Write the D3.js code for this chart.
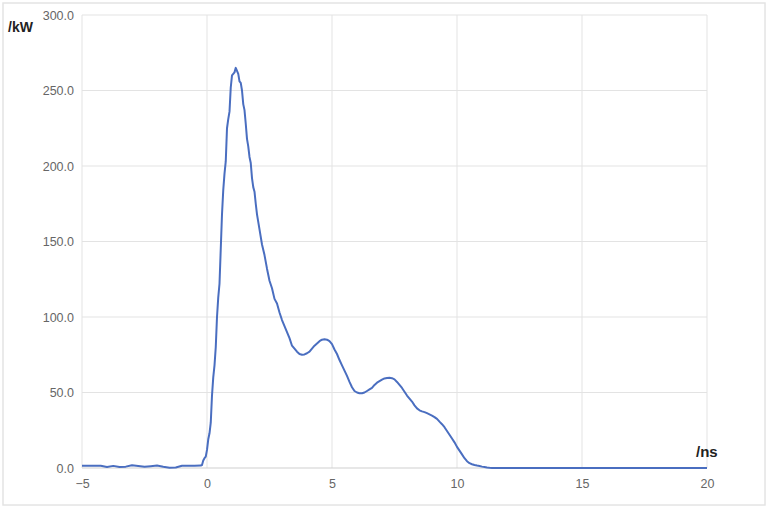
<!DOCTYPE html>
<html>
<head>
<meta charset="utf-8">
<script src="https://cdn.jsdelivr.net/npm/d3@7"></script>
<style>
  html, body { margin: 0; padding: 0; background: #fff; }
  svg { display: block; font-family: "Liberation Sans", Arial, sans-serif; }
</style>
</head>
<body>
<svg id="chart" width="768" height="508"></svg>
<script>
// ---- data ----
const times = [
  -5, -4.75, -4.5, -4.25, -4, -3.75, -3.5, -3.25, -3, -2.75, -2.5, -2.25, -2, -1.75, -1.5, -1.25, -1, -0.75, -0.5, -0.25,
  -0.2, -0.15, -0.1, -0.05, 0, 0.05, 0.1, 0.15, 0.2, 0.25, 0.3, 0.35, 0.4, 0.45, 0.5, 0.55, 0.6, 0.65, 0.7, 0.75,
  0.8, 0.85, 0.9, 0.95, 1.0, 1.05, 1.1, 1.15, 1.2, 1.25, 1.3, 1.35, 1.4, 1.45, 1.5, 1.55, 1.6, 1.65, 1.7, 1.75,
  1.8, 1.85, 1.9, 1.95, 2.0,
  2.1, 2.2, 2.3, 2.4, 2.5, 2.6, 2.7, 2.8, 2.9, 3.0, 3.1, 3.2, 3.3, 3.4, 3.5, 3.6, 3.7, 3.8, 3.9, 4.0,
  4.1, 4.2, 4.3, 4.4, 4.5, 4.6, 4.7, 4.8, 4.9, 5.0, 5.1, 5.2, 5.3, 5.4, 5.5, 5.6, 5.7, 5.8, 5.9, 6.0,
  6.1, 6.2, 6.3, 6.4, 6.5, 6.6, 6.7, 6.8, 6.9, 7.0, 7.1, 7.2, 7.3, 7.4, 7.5, 7.6, 7.7, 7.8, 7.9, 8.0,
  8.1, 8.2, 8.3, 8.4, 8.5, 8.6, 8.7, 8.8, 8.9, 9.0, 9.1, 9.2, 9.3, 9.4, 9.5, 9.6, 9.7, 9.8, 9.9, 10.0,
  10.1, 10.2, 10.3, 10.4, 10.5, 10.6, 10.7, 10.8, 10.9, 11.0, 11.1, 11.2, 11.3, 11.4, 12, 14, 16, 18, 20
];
const powerKW = [
  1.5, 1.5, 1.5, 1.5, 0.7, 1.4, 0.6, 0.9, 1.8, 1.3, 0.8, 1.2, 1.6, 0.8, 0.2, 0.3, 1.5, 1.5, 1.5, 1.6,
  2, 5, 6.5, 7.5, 12, 19, 23, 30, 48, 60, 68, 80, 100, 113, 122, 145, 168, 184, 195, 203,
  225, 231, 236, 252, 260, 261, 262, 265, 263, 261, 256, 255, 250, 241, 237, 228, 218, 213, 206, 202,
  192, 186, 183, 175, 168,
  158, 148, 141, 132, 124, 119, 112, 109, 103, 98, 94, 90, 86, 81, 79, 77, 75.5, 75, 75.2, 76,
  77, 79, 81, 82.5, 84, 85, 85.3, 85, 84, 82, 78.5, 75.5, 71.5, 68, 64.5, 61, 57, 53.5, 51, 50,
  49.5, 49.5, 50, 51, 52, 53, 55, 56.5, 57.5, 58.5, 59.3, 59.6, 59.7, 59.5, 58.7, 57, 55, 53, 50.5, 48,
  46, 44, 41.5, 39.5, 38.2, 37.5, 37, 36.3, 35.5, 34.7, 33.7, 32.5, 30.7, 29, 27, 24.5, 22, 19.5, 17, 14,
  11.5, 9, 6.5, 4.5, 3.2, 2.5, 2, 1.6, 1.3, 0.9, 0.6, 0.3, 0.1, 0, 0, 0, 0, 0, 0
];
const xTicks = [-5, 0, 5, 10, 15, 20];
const yTicks = [0, 50, 100, 150, 200, 250, 300];
const yUnit = "/kW";
const xUnit = "/ns";

// ---- chart ----
const svg = d3.select("#chart");
const W = 768, H = 508;
const m = { left: 82, right: W - 707, top: 15, bottom: H - 468 };

svg.append("rect")
  .attr("x", 3).attr("y", 3).attr("width", 762).attr("height", 502)
  .attr("fill", "#fff").attr("stroke", "#e4e4e4").attr("stroke-width", 1.5);

const x = d3.scaleLinear().domain([-5, 20]).range([m.left, W - m.right]);
const y = d3.scaleLinear().domain([0, 300]).range([H - m.bottom, m.top]);

// gridlines
const grid = svg.append("g");
grid.selectAll("line.v").data(xTicks).join("line")
  .attr("class", "v")
  .attr("x1", d => x(d)).attr("x2", d => x(d))
  .attr("y1", y(300)).attr("y2", y(0))
  .attr("stroke", "#e3e3e3").attr("stroke-width", 1);
grid.selectAll("line.h").data(yTicks).join("line")
  .attr("class", "h")
  .attr("x1", x(-5)).attr("x2", x(20))
  .attr("y1", d => y(d)).attr("y2", d => y(d))
  .attr("stroke", d => d === 0 ? "#cfcfcf" : "#e3e3e3").attr("stroke-width", 1);

// axes (labels only)
const yAxis = d3.axisLeft(y).tickValues(yTicks).tickFormat(d3.format(".1f")).tickSize(0).tickPadding(8);
const gy = svg.append("g").attr("transform", `translate(${m.left},0)`).call(yAxis);
gy.select(".domain").remove();
gy.selectAll("text").attr("fill", "#666").style("font-size", "12.5px");

const xAxis = d3.axisBottom(x).tickValues(xTicks).tickFormat(d3.format("d")).tickSize(0).tickPadding(11);
const gx = svg.append("g").attr("transform", `translate(0,${y(0)})`).call(xAxis);
gx.select(".domain").remove();
gx.selectAll("text").attr("fill", "#666").style("font-size", "12.5px");

// line
const pts = times.map((t, i) => [t, powerKW[i]]);
svg.append("path")
  .datum(pts)
  .attr("fill", "none")
  .attr("stroke", "#4a6ec0")
  .attr("stroke-width", 2)
  .attr("stroke-linejoin", "round")
  .attr("d", d3.line().x(d => x(d[0])).y(d => y(d[1])));

// unit labels
svg.append("text").attr("x", 8).attr("y", 32).text(yUnit)
  .attr("font-weight", "bold").attr("font-size", 14).attr("fill", "#222");
svg.append("text").attr("x", 696).attr("y", 457).text(xUnit)
  .attr("font-weight", "bold").attr("font-size", 15).attr("fill", "#222");
</script>
</body>
</html>
